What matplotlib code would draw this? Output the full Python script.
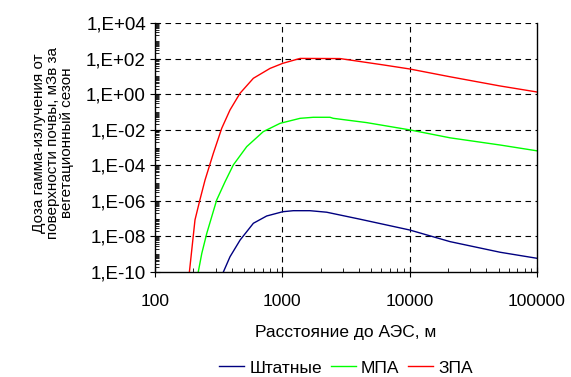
import matplotlib.pyplot as plt
from matplotlib.ticker import LogLocator, FuncFormatter, NullFormatter, FixedLocator
import numpy as np

plt.rcParams['font.family'] = ['Liberation Sans', 'DejaVu Sans']

# Data
dist_zpa = [183, 206, 225, 247, 287, 334, 388, 465, 592, 800, 1007, 1378,
            2840, 6200, 10000, 20700, 51000, 100000]
dose_zpa = [3.2e-11, 8.5e-8, 1.12e-6, 1.48e-5, 4.7e-4, 0.012, 0.129, 1.12,
            7.8, 28, 54, 102, 100, 44, 26, 9.5, 2.9, 1.32]

dist_mpa = [212, 233, 255, 305, 355, 412, 525, 708, 960, 1378, 1750, 2366,
            2510, 4590, 10000, 20750, 51300, 100000]
dose_mpa = [3.2e-11, 1.12e-9, 1.5e-8, 1.12e-6, 1.2e-5, 1.05e-4, 1.12e-3,
            7.8e-3, 0.0229, 0.0437, 0.05, 0.05, 0.0437, 0.0251, 0.0098,
            3.5e-3, 1.38e-3, 6.5e-4]

dist_norm = [321, 388, 466, 592, 753, 1007, 1219, 1648, 2228, 4074, 10000,
             20750, 51300, 100000]
dose_norm = [3.2e-11, 7.2e-10, 6.3e-9, 5.5e-8, 1.41e-7, 2.45e-7, 2.8e-7,
             2.8e-7, 2.3e-7, 9.3e-8, 2.3e-8, 5.1e-9, 1.29e-9, 5.9e-10]

labels = ['Штатные', 'МПА', 'ЗПА']
colors = ['#000080', '#00ff00', '#ff0000']

fig = plt.figure(figsize=(5.71, 3.77), dpi=100)
ax = fig.add_axes([0.2715, 0.2785, 0.669, 0.6605])

for d, v, lab, c in zip([dist_norm, dist_mpa, dist_zpa],
                        [dose_norm, dose_mpa, dose_zpa], labels, colors):
    ax.plot(d, v, color=c, lw=1.0, label=lab)

ax.set_xscale('log')
ax.set_yscale('log')
ax.set_xlim(100, 100000)
ax.set_ylim(1e-10, 1e4)

ax.yaxis.set_major_locator(FixedLocator([10.0 ** e for e in range(-10, 5, 2)]))
ax.yaxis.set_major_formatter(FuncFormatter(
    lambda v, p: '1,E%+03d' % int(round(np.log10(v)))))
ax.yaxis.set_minor_locator(LogLocator(base=10, subs=np.arange(1, 10), numticks=50))
ax.yaxis.set_minor_formatter(NullFormatter())
ax.xaxis.set_major_locator(FixedLocator([100, 1000, 10000, 100000]))
ax.xaxis.set_major_formatter(FuncFormatter(lambda v, p: '%d' % v))
ax.xaxis.set_minor_locator(LogLocator(base=10, subs=np.arange(2, 10), numticks=50))
ax.xaxis.set_minor_formatter(NullFormatter())

ax.tick_params(which='major', direction='inout', length=7, width=0.8,
               colors='black')
ax.tick_params(which='minor', direction='in', length=3, width=0.6)
ax.tick_params(axis='y', which='both', right=False)
ax.tick_params(axis='y', which='major', labelsize=13.5, pad=3)
ax.tick_params(axis='x', which='both', top=False)
ax.tick_params(axis='x', which='major', labelsize=12.5, pad=12)

# grid
for e in range(-8, 5, 2):
    ax.axhline(10.0 ** e, color='black', lw=0.8, ls=(0, (5, 4)), zorder=0.5)
for xv in [1000, 10000]:
    ax.axvline(xv, color='black', lw=0.8, ls=(0, (5, 4)), zorder=0.5)
ax.spines['top'].set_visible(False)
for s in ['left', 'right', 'bottom']:
    ax.spines[s].set_linewidth(1.0)

ax.set_xlabel('Расстояние до АЭС, м', fontsize=12.5, va='center')
ax.xaxis.set_label_coords(0.5, -0.241)
ax.set_ylabel('Доза гамма-излучения от\nповерхности почвы, мЗв за\nвегетационный сезон',
              fontsize=11, va='center', linespacing=1.0)
ax.yaxis.set_label_coords(-0.267, 0.518)

fig.legend(loc='center', bbox_to_anchor=(0.606, 0.024), ncol=3, frameon=False,
           fontsize=12.5, handlelength=1.45, columnspacing=0.5, handletextpad=0.3)

fig.savefig('out.png', dpi=100)
